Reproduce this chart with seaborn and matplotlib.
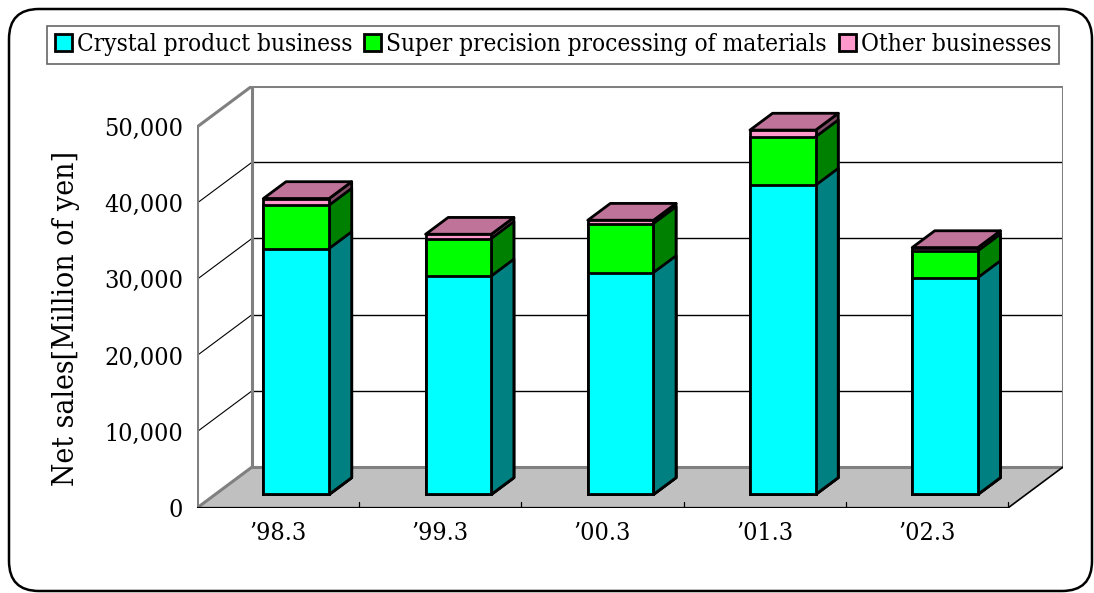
import matplotlib
matplotlib.use("Agg")
import matplotlib.pyplot as plt
from matplotlib.patches import Polygon, Patch, FancyBboxPatch
import seaborn as sns
import numpy as np

# Net sales by business segment, fiscal years ending March
categories = ["\u201998.3", "\u201999.3", "\u201900.3", "\u201901.3", "\u201902.3"]
crystal = [32270, 28670, 29120, 40590, 28460]
precision = [5690, 4920, 6440, 6350, 3500]
other = [880, 560, 430, 880, 440]
series_names = ["Crystal product business",
                "Super precision processing of materials",
                "Other businesses"]
yticks = [0, 10000, 20000, 30000, 40000, 50000]

front_colors = ["#00FFFF", "#00FF00", "#FF99CC"]
side_colors = ["#008080", "#008000", "#804C66"]
top_color = "#C07399"

sns.set_theme(style="white")
plt.rcParams["font.family"] = ["DejaVu Serif"]
plt.rcParams["font.stretch"] = "condensed"
for key in ["text.color", "axes.labelcolor", "xtick.color", "ytick.color"]:
    plt.rcParams[key] = "black"

W, H, DPI = 1094, 593, 100
fig = plt.figure(figsize=(W / DPI, H / DPI), dpi=DPI)
ax = fig.add_axes([197 / W, 1 - 508 / H, (1063 - 197) / W, (508 - 86) / H])

n = len(categories)
ymax = yticks[-1]
# oblique depth of the plot box, in data units
DX = 55 / 162
DY = ymax * 41 / 381
f0 = 0.33     # bar front plane (fraction of depth)
fd = 0.41     # bar depth (fraction of depth)
bw = 0.405    # bar width

x0, x1 = -0.5, n - 0.5

# walls and floor
ax.add_patch(Polygon([(x0, 0), (x1, 0), (x1 + DX, DY), (x0 + DX, DY)],
                     closed=True, facecolor="#C0C0C0", edgecolor="none", zorder=1))
gray = "#808080"
for t in yticks[1:-1]:
    ax.plot([x0 + DX, x1 + DX], [t + DY, t + DY], color="black", lw=1.0, zorder=1.5)
    ax.plot([x0, x0 + DX], [t, t + DY], color="black", lw=0.8, zorder=1.5)
ax.plot([x0 + DX, x1 + DX], [ymax + DY, ymax + DY], color=gray, lw=2.2, zorder=1.6)
ax.plot([x0, x0 + DX], [ymax, ymax + DY], color=gray, lw=2.2, zorder=1.6)
ax.plot([x0 + DX, x0 + DX], [DY, ymax + DY], color=gray, lw=2.2, zorder=1.6)
ax.plot([x1 + DX, x1 + DX], [DY, ymax + DY], color=gray, lw=2.2, zorder=1.6)
ax.plot([x0 + DX, x1 + DX], [DY, DY], color=gray, lw=2.2, zorder=1.6)
ax.plot([x0, x0 + DX], [0, DY], color=gray, lw=2.2, zorder=1.6)
ax.plot([x0, x0], [0, ymax], color=gray, lw=2.2, zorder=1.6)
ax.plot([x1, x1 + DX], [0, DY], color="black", lw=1.2, zorder=1.6)
ax.plot([x0, x1], [0, 0], color="black", lw=1.6, zorder=1.6)
for b in np.arange(x0 + 1, x1 + 0.01, 1.0):
    ax.plot([b, b], [0, 800], color="black", lw=0.9, zorder=1.6)

# stacked totals: drawn top segment first so lower ones overlay it
layers = [np.add(np.add(crystal, precision), other),
          np.add(crystal, precision),
          np.array(crystal)]
layer_colors = front_colors[::-1]
layer_sides = side_colors[::-1]
for k, (vals, fc, sc) in enumerate(zip(layers, layer_colors, layer_sides)):
    before = len(ax.patches)
    sns.barplot(x=categories, y=vals, order=categories, color=fc, saturation=1,
                width=bw, edgecolor="black", linewidth=2.0, errorbar=None, ax=ax)
    new = ax.patches[before:]
    z = 3 + k
    for rect in new:
        rx = rect.get_x() + f0 * DX
        ry = rect.get_y() + f0 * DY
        rw, rh = rect.get_width(), rect.get_height()
        rect.set_x(rx)
        rect.set_y(ry)
        rect.set_zorder(z + 0.5)
        ddx, ddy = fd * DX, fd * DY
        ax.add_patch(Polygon([(rx + rw, ry), (rx + rw + ddx, ry + ddy),
                              (rx + rw + ddx, ry + rh + ddy), (rx + rw, ry + rh)],
                             closed=True, facecolor=sc, edgecolor="black",
                             lw=2.0, zorder=z, joinstyle="round"))
        if k == 0:
            ax.add_patch(Polygon([(rx, ry + rh), (rx + rw, ry + rh),
                                  (rx + rw + ddx, ry + rh + ddy), (rx + ddx, ry + rh + ddy)],
                                 closed=True, facecolor=top_color, edgecolor="black",
                                 lw=2.0, zorder=z, joinstyle="round"))

ax.set_xlim(x0, x1 + DX)
ax.set_ylim(0, ymax + DY)
for s in ax.spines.values():
    s.set_visible(False)
ax.grid(False)
ax.set_yticks(yticks)
ax.set_yticklabels([f"{t:,}" for t in yticks], fontsize=18)
ax.tick_params(axis="y", direction="in", length=6, width=1.2, color="black", pad=10)
ax.set_xticks(range(n))
ax.set_xticklabels(categories, fontsize=18)
ax.tick_params(axis="x", length=0, pad=10)
ax.set_xlabel("")
ax.set_ylabel("Net sales[Million of yen]", fontsize=21.5)
ax.yaxis.set_label_coords(-0.135, 0.45)
ax.set_facecolor("white")

handles = [Patch(facecolor=c, edgecolor="black", lw=2.0) for c in front_colors]
leg = fig.legend(handles, series_names, loc="upper center", ncol=3,
                 bbox_to_anchor=(553 / W, 1 - 26 / H), fontsize=17.5,
                 frameon=True, fancybox=False, handlelength=0.7, handleheight=0.7,
                 handletextpad=0.2, columnspacing=0.5, borderpad=0.3,
                 borderaxespad=0)
leg.get_frame().set_edgecolor("#404040")
leg.get_frame().set_linewidth(1.2)

fig.patches.append(FancyBboxPatch((9 / DPI, 2 / DPI), (W - 11) / DPI, (H - 11) / DPI,
                                  boxstyle="round,pad=0,rounding_size=0.3",
                                  transform=fig.dpi_scale_trans, facecolor="none",
                                  edgecolor="black", lw=1.8))

fig.savefig("out.png", dpi=DPI)
